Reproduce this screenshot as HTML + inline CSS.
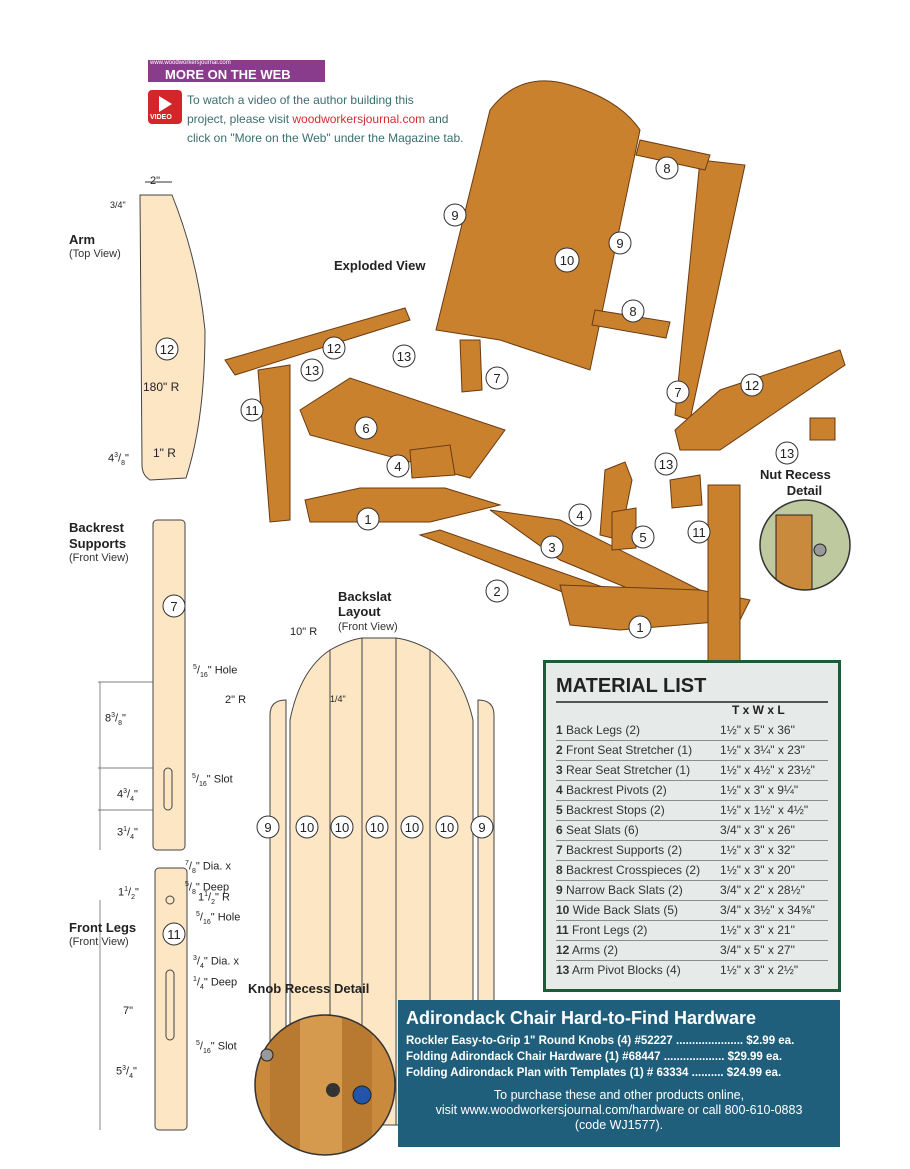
<!DOCTYPE html>
<html><head><meta charset="utf-8"><style>
body{margin:0;background:#fff;width:910px;height:1169px;overflow:hidden;position:relative;font-family:"Liberation Sans",sans-serif;}
.t{position:absolute;font-family:"Liberation Sans",sans-serif;color:#222;white-space:nowrap}
.b{font-weight:bold}
.s{font-size:11px;color:#333}
#ml{position:absolute;left:543px;top:660px;width:292px;height:326px;background:#e6ebe9;border:3px solid #1d5b3a;overflow:hidden}
#ml table{position:absolute;left:10px;top:58px;border-collapse:collapse;font-size:12px;color:#333;width:272px}
#ml td{border-bottom:1px solid #8a8f8d;height:19px;line-height:19px;padding:0}
#hw{position:absolute;left:398px;top:1000px;width:442px;height:147px;background:#1f5f7c;color:#fff}
</style></head><body>
<svg width="910" height="1169" style="position:absolute;left:0;top:0">
<defs><clipPath id="kc"><circle cx="325" cy="1085" r="70"/></clipPath><clipPath id="nc"><circle cx="805" cy="545" r="45"/></clipPath></defs>
<rect x="148" y="60" width="177" height="22" fill="#8a3c8c"/>
<rect x="148" y="90" width="34" height="34" rx="4" fill="#d2262a"/>
<polygon points="159,96 159,112 172,104" fill="#fff"/>
<path d="M140,195 L172,195 Q198,260 205,330 Q205,420 186,478 L150,480 Q142,475 142,465 Z" fill="#fde6c4" stroke="#444" stroke-width="1"/>
<line x1="145" y1="182" x2="172" y2="182" stroke="#333"/>
<rect x="153" y="520" width="32" height="330" rx="4" fill="#fde6c4" stroke="#444"/>
<rect x="164" y="768" width="8" height="42" rx="4" fill="none" stroke="#444"/>
<line x1="98" y1="682" x2="153" y2="682" stroke="#555" stroke-width=".7"/>
<line x1="98" y1="768" x2="153" y2="768" stroke="#555" stroke-width=".7"/>
<line x1="98" y1="810" x2="153" y2="810" stroke="#555" stroke-width=".7"/>
<line x1="100" y1="682" x2="100" y2="850" stroke="#555" stroke-width=".7"/>
<rect x="155" y="868" width="32" height="262" rx="4" fill="#fde6c4" stroke="#444"/>
<circle cx="170" cy="900" r="4" fill="none" stroke="#444"/>
<rect x="166" y="970" width="8" height="70" rx="4" fill="none" stroke="#444"/>
<line x1="100" y1="900" x2="100" y2="1130" stroke="#555" stroke-width=".7"/>
<g fill="#fde6c4" stroke="#444" stroke-width="1">
<path d="M270,715 Q270,700 286,700 L286,1125 L270,1125 Z"/>
<path d="M478,700 Q494,700 494,715 L494,1125 L478,1125 Z"/>
<path d="M290,1125 L290,720 Q300,670 330,650 L330,1125 Z"/>
<path d="M330,1125 L330,650 Q348,640 362,638 L362,1125 Z"/>
<path d="M362,1125 L362,638 L396,638 L396,1125 Z"/>
<path d="M396,1125 L396,638 Q412,640 430,650 L430,1125 Z"/>
<path d="M430,1125 L430,650 Q462,672 473,720 L473,1125 Z"/>
</g>
<g clip-path="url(#kc)">
<rect x="250" y="1010" width="150" height="150" fill="#c98a3e"/>
<rect x="270" y="1010" width="30" height="150" fill="#b87a30"/>
<rect x="300" y="1010" width="42" height="150" fill="#d59a4e"/>
<rect x="342" y="1010" width="30" height="150" fill="#b87a30"/>
</g>
<circle cx="325" cy="1085" r="70" fill="none" stroke="#333" stroke-width="1.5"/>
<circle cx="333" cy="1090" r="7" fill="#333"/>
<circle cx="362" cy="1095" r="9" fill="#2255aa" stroke="#222"/>
<circle cx="267" cy="1055" r="6" fill="#999" stroke="#222"/>
<g clip-path="url(#nc)">
<rect x="760" y="500" width="90" height="90" fill="#bfc9a0"/>
<rect x="776" y="515" width="36" height="80" fill="#c98a3e" stroke="#222"/>
</g>
<circle cx="805" cy="545" r="45" fill="none" stroke="#333" stroke-width="1.5"/>
<circle cx="820" cy="550" r="6" fill="#999" stroke="#222"/>
<g fill="#c9812e" stroke="#6b3a10" stroke-width="1">
<path d="M436,330 L490,110 Q520,70 570,85 Q620,100 640,130 L590,370 L500,340 Z"/>
<polygon points="460,340 480,340 482,390 462,392"/>
<polygon points="700,160 745,165 690,420 675,415"/>
<polygon points="640,140 710,155 705,170 636,155"/>
<polygon points="595,310 670,322 666,338 592,325"/>
<polygon points="225,360 405,308 410,320 235,375"/>
<polygon points="258,370 290,365 290,520 270,522"/>
<polygon points="300,410 350,378 505,430 470,478 310,435"/>
<polygon points="410,450 450,445 455,475 412,478"/>
<polygon points="305,500 360,488 445,488 500,505 430,522 310,522"/>
<polygon points="420,535 440,530 640,600 620,615"/>
<polygon points="490,510 560,520 700,590 680,610 560,560"/>
<polygon points="560,585 700,590 750,600 740,620 620,630 570,625"/>
<polygon points="605,470 625,462 632,480 620,540 600,535"/>
<polygon points="612,512 636,508 636,548 612,550"/>
<polygon points="675,430 720,390 840,350 845,365 720,450 680,450"/>
<polygon points="670,480 700,475 702,505 672,508"/>
<polygon points="810,418 835,418 835,440 810,440"/>
<polygon points="708,485 740,485 740,690 708,690"/>
</g>
<g fill="#fff" stroke="#333" stroke-width="1" font-family="Liberation Sans" font-size="13" text-anchor="middle">
<circle cx="455" cy="215" r="11"/><text x="455" y="220" stroke="none" fill="#222">9</text>
<circle cx="620" cy="243" r="11"/><text x="620" y="248" stroke="none" fill="#222">9</text>
<circle cx="567" cy="260" r="12"/><text x="567" y="265" stroke="none" fill="#222">10</text>
<circle cx="667" cy="168" r="11"/><text x="667" y="173" stroke="none" fill="#222">8</text>
<circle cx="633" cy="311" r="11"/><text x="633" y="316" stroke="none" fill="#222">8</text>
<circle cx="497" cy="378" r="11"/><text x="497" y="383" stroke="none" fill="#222">7</text>
<circle cx="678" cy="392" r="11"/><text x="678" y="397" stroke="none" fill="#222">7</text>
<circle cx="334" cy="348" r="11"/><text x="334" y="353" stroke="none" fill="#222">12</text>
<circle cx="404" cy="356" r="11"/><text x="404" y="361" stroke="none" fill="#222">13</text>
<circle cx="312" cy="370" r="11"/><text x="312" y="375" stroke="none" fill="#222">13</text>
<circle cx="252" cy="410" r="11"/><text x="252" y="415" stroke="none" fill="#222">11</text>
<circle cx="366" cy="428" r="11"/><text x="366" y="433" stroke="none" fill="#222">6</text>
<circle cx="398" cy="466" r="11"/><text x="398" y="471" stroke="none" fill="#222">4</text>
<circle cx="368" cy="519" r="11"/><text x="368" y="524" stroke="none" fill="#222">1</text>
<circle cx="552" cy="547" r="11"/><text x="552" y="552" stroke="none" fill="#222">3</text>
<circle cx="497" cy="591" r="11"/><text x="497" y="596" stroke="none" fill="#222">2</text>
<circle cx="640" cy="627" r="11"/><text x="640" y="632" stroke="none" fill="#222">1</text>
<circle cx="580" cy="515" r="11"/><text x="580" y="520" stroke="none" fill="#222">4</text>
<circle cx="643" cy="537" r="11"/><text x="643" y="542" stroke="none" fill="#222">5</text>
<circle cx="699" cy="532" r="11"/><text x="699" y="537" stroke="none" fill="#222">11</text>
<circle cx="666" cy="464" r="11"/><text x="666" y="469" stroke="none" fill="#222">13</text>
<circle cx="752" cy="385" r="11"/><text x="752" y="390" stroke="none" fill="#222">12</text>
<circle cx="787" cy="453" r="11"/><text x="787" y="458" stroke="none" fill="#222">13</text>
<circle cx="167" cy="349" r="11"/><text x="167" y="354" stroke="none" fill="#222">12</text>
<circle cx="174" cy="606" r="11"/><text x="174" y="611" stroke="none" fill="#222">7</text>
<circle cx="174" cy="934" r="11"/><text x="174" y="939" stroke="none" fill="#222">11</text>
<circle cx="268" cy="827" r="11"/><text x="268" y="832" stroke="none" fill="#222">9</text>
<circle cx="307" cy="827" r="11"/><text x="307" y="832" stroke="none" fill="#222">10</text>
<circle cx="342" cy="827" r="11"/><text x="342" y="832" stroke="none" fill="#222">10</text>
<circle cx="377" cy="827" r="11"/><text x="377" y="832" stroke="none" fill="#222">10</text>
<circle cx="412" cy="827" r="11"/><text x="412" y="832" stroke="none" fill="#222">10</text>
<circle cx="447" cy="827" r="11"/><text x="447" y="832" stroke="none" fill="#222">10</text>
<circle cx="482" cy="827" r="11"/><text x="482" y="832" stroke="none" fill="#222">9</text>
</g>
</svg>
<div class="t" style="left:150px;top:60px;font-size:6px;color:#fff">www.woodworkersjournal.com</div>
<div class="t b" style="left:165px;top:67px;font-size:13px;color:#fff">MORE ON THE WEB</div>
<div class="t" style="left:150px;top:114px;font-size:7px;color:#fff;font-weight:bold">VIDEO</div>
<div class="t" style="left:187px;top:91px;font-size:12px;line-height:19px;color:#3a6e70">To watch a video of the author building this<br>project, please visit <span style="color:#d03030">woodworkersjournal.com</span> and<br>click on "More on the Web" under the Magazine tab.</div>
<div class="t b" style="left:69px;top:232px;font-size:13px">Arm</div>
<div class="t s" style="left:69px;top:248px">(Top View)</div>
<div class="t" style="left:150px;top:175px;font-size:11px">2"</div>
<div class="t" style="left:110px;top:200px;font-size:9px">3/4"</div>
<div class="t" style="left:143px;top:380px;font-size:12px">180" R</div>
<div class="t" style="left:108px;top:452px;font-size:11px">4<sup style="font-size:7px">3</sup>/<sub style="font-size:7px">8</sub>"</div>
<div class="t" style="left:153px;top:446px;font-size:12px">1" R</div>
<div class="t b" style="left:334px;top:258px;font-size:13px">Exploded View</div>
<div class="t b" style="left:69px;top:520px;font-size:13px;line-height:16px">Backrest<br>Supports</div>
<div class="t s" style="left:69px;top:552px">(Front View)</div>
<div class="t" style="left:193px;top:664px;font-size:11px"><sup style="font-size:7px">5</sup>/<sub style="font-size:7px">16</sub>" Hole</div>
<div class="t" style="left:105px;top:712px;font-size:11px">8<sup style="font-size:7px">3</sup>/<sub style="font-size:7px">8</sub>"</div>
<div class="t" style="left:192px;top:773px;font-size:11px"><sup style="font-size:7px">5</sup>/<sub style="font-size:7px">16</sub>" Slot</div>
<div class="t" style="left:117px;top:788px;font-size:11px">4<sup style="font-size:7px">3</sup>/<sub style="font-size:7px">4</sub>"</div>
<div class="t" style="left:117px;top:826px;font-size:11px">3<sup style="font-size:7px">1</sup>/<sub style="font-size:7px">4</sub>"</div>
<div class="t b" style="left:338px;top:589px;font-size:13px;line-height:15px">Backslat<br>Layout</div>
<div class="t s" style="left:338px;top:621px">(Front View)</div>
<div class="t" style="left:290px;top:626px;font-size:11px">10" R</div>
<div class="t" style="left:225px;top:694px;font-size:11px">2" R</div>
<div class="t" style="left:330px;top:694px;font-size:9px">1/4"</div>
<div class="t" style="left:185px;top:857px;font-size:11px;line-height:13px"><sup style="font-size:7px">7</sup>/<sub style="font-size:7px">8</sub>" Dia. x<br><sup style="font-size:7px">5</sup>/<sub style="font-size:7px">8</sub>" Deep</div>
<div class="t" style="left:118px;top:886px;font-size:11px">1<sup style="font-size:7px">1</sup>/<sub style="font-size:7px">2</sub>"</div>
<div class="t" style="left:198px;top:891px;font-size:11px">1<sup style="font-size:7px">1</sup>/<sub style="font-size:7px">2</sub>" R</div>
<div class="t" style="left:196px;top:911px;font-size:11px"><sup style="font-size:7px">5</sup>/<sub style="font-size:7px">16</sub>" Hole</div>
<div class="t b" style="left:69px;top:920px;font-size:13px">Front Legs</div>
<div class="t s" style="left:69px;top:936px">(Front View)</div>
<div class="t" style="left:193px;top:952px;font-size:11px;line-height:13px"><sup style="font-size:7px">3</sup>/<sub style="font-size:7px">4</sub>" Dia. x<br><sup style="font-size:7px">1</sup>/<sub style="font-size:7px">4</sub>" Deep</div>
<div class="t b" style="left:248px;top:981px;font-size:13px">Knob Recess Detail</div>
<div class="t" style="left:123px;top:1005px;font-size:11px">7"</div>
<div class="t" style="left:196px;top:1040px;font-size:11px"><sup style="font-size:7px">5</sup>/<sub style="font-size:7px">16</sub>" Slot</div>
<div class="t" style="left:116px;top:1065px;font-size:11px">5<sup style="font-size:7px">3</sup>/<sub style="font-size:7px">4</sub>"</div>
<div class="t b" style="left:760px;top:467px;font-size:13px;text-align:center;line-height:16px">Nut Recess<br>&nbsp;&nbsp;&nbsp;&nbsp;&nbsp;Detail</div>
<div id="ml">
<div class="t b" style="left:10px;top:12px;font-size:20px;color:#222">MATERIAL LIST</div>
<div style="position:absolute;left:10px;top:38px;width:272px;border-top:2px solid #555"></div>
<div class="t b" style="left:186px;top:40px;font-size:12px">T x W x L</div>
<table>
<tr><td><b>1</b> Back Legs (2)</td><td>1½" x 5" x 36"</td></tr>
<tr><td><b>2</b> Front Seat Stretcher (1)</td><td>1½" x 3¼" x 23"</td></tr>
<tr><td><b>3</b> Rear Seat Stretcher (1)</td><td>1½" x 4½" x 23½"</td></tr>
<tr><td><b>4</b> Backrest Pivots (2)</td><td>1½" x 3" x 9¼"</td></tr>
<tr><td><b>5</b> Backrest Stops (2)</td><td>1½" x 1½" x 4½"</td></tr>
<tr><td><b>6</b> Seat Slats (6)</td><td>3/4" x 3" x 26"</td></tr>
<tr><td><b>7</b> Backrest Supports (2)</td><td>1½" x 3" x 32"</td></tr>
<tr><td><b>8</b> Backrest Crosspieces (2)</td><td>1½" x 3" x 20"</td></tr>
<tr><td><b>9</b> Narrow Back Slats (2)</td><td>3/4" x 2" x 28½"</td></tr>
<tr><td><b>10</b> Wide Back Slats (5)</td><td>3/4" x 3½" x 34⅝"</td></tr>
<tr><td><b>11</b> Front Legs (2)</td><td>1½" x 3" x 21"</td></tr>
<tr><td><b>12</b> Arms (2)</td><td>3/4" x 5" x 27"</td></tr>
<tr><td style="border:none"><b>13</b> Arm Pivot Blocks (4)</td><td style="border:none">1½" x 3" x 2½"</td></tr>
</table></div>
<div id="hw">
<div class="t b" style="left:8px;top:8px;font-size:18px;color:#fff">Adirondack Chair Hard-to-Find Hardware</div>
<div class="t b" style="left:8px;top:33px;font-size:11.5px;color:#fff;line-height:16px">Rockler Easy-to-Grip 1" Round Knobs (4) #52227 ..................... $2.99 ea.<br>Folding Adirondack Chair Hardware (1) #68447 ................... $29.99 ea.<br>Folding Adirondack Plan with Templates (1) # 63334 .......... $24.99 ea.</div>
<div class="t" style="left:0;width:442px;top:88px;font-size:12.5px;color:#fff;text-align:center;line-height:15px">To purchase these and other products online,<br>visit www.woodworkersjournal.com/hardware or call 800-610-0883<br>(code WJ1577).</div>
</div>
</body></html>
